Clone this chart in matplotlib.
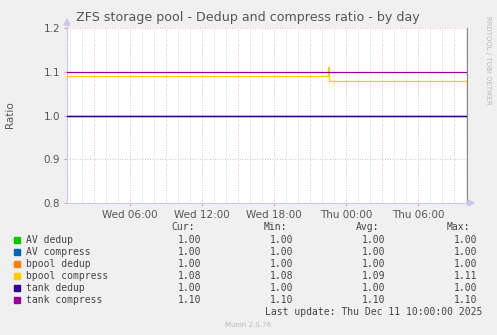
import matplotlib
matplotlib.use("Agg")
import matplotlib.pyplot as plt
import matplotlib.dates as mdates
from datetime import datetime, timedelta

# ---- data ----
series_names = ["AV dedup", "AV compress", "bpool dedup", "bpool compress", "tank dedup", "tank compress"]
series_colors = ["#00CC00", "#0066B3", "#FF8000", "#FFCC00", "#330099", "#990099"]

t_start = datetime(2025, 12, 10, 0, 45)
t_end = datetime(2025, 12, 11, 10, 5)

av_dedup_t = [datetime(2025, 12, 10, 0, 45), datetime(2025, 12, 11, 10, 0)]
av_dedup_v = [1.00, 1.00]
av_compress_t = [datetime(2025, 12, 10, 0, 45), datetime(2025, 12, 11, 10, 0)]
av_compress_v = [1.00, 1.00]
bpool_dedup_t = [datetime(2025, 12, 10, 0, 45), datetime(2025, 12, 11, 10, 0)]
bpool_dedup_v = [1.00, 1.00]
bpool_compress_t = [datetime(2025, 12, 10, 0, 45), datetime(2025, 12, 10, 22, 30),
                    datetime(2025, 12, 10, 22, 35), datetime(2025, 12, 10, 22, 40),
                    datetime(2025, 12, 11, 10, 0)]
bpool_compress_v = [1.09, 1.11, 1.08, 1.08, 1.08]
tank_dedup_t = [datetime(2025, 12, 10, 0, 45), datetime(2025, 12, 11, 10, 0)]
tank_dedup_v = [1.00, 1.00]
tank_compress_t = [datetime(2025, 12, 10, 0, 45), datetime(2025, 12, 11, 10, 0)]
tank_compress_v = [1.10, 1.10]

cur_vals = ["1.00", "1.00", "1.00", "1.08", "1.00", "1.10"]
min_vals = ["1.00", "1.00", "1.00", "1.08", "1.00", "1.10"]
avg_vals = ["1.00", "1.00", "1.00", "1.09", "1.00", "1.10"]
max_vals = ["1.00", "1.00", "1.00", "1.11", "1.00", "1.10"]

y_ticks = [0.8, 0.9, 1.0, 1.1, 1.2]
title = "ZFS storage pool - Dedup and compress ratio - by day"
last_update = "Last update: Thu Dec 11 10:00:00 2025"

# ---- figure ----
W, H = 497, 335
fig = plt.figure(figsize=(W / 100, H / 100), dpi=100, facecolor="#F0F0F0")
L, R, T, B = 67, 467, 28, 203
ax = fig.add_axes([L / W, 1 - B / H, (R - L) / W, (B - T) / H])
ax.set_facecolor("white")

all_t = [av_dedup_t, av_compress_t, bpool_dedup_t, bpool_compress_t, tank_dedup_t, tank_compress_t]
all_v = [av_dedup_v, av_compress_v, bpool_dedup_v, bpool_compress_v, tank_dedup_v, tank_compress_v]
for tt, vv, c in zip(all_t, all_v, series_colors):
    ax.step(tt, vv, where="post", color=c, lw=0.9, zorder=3)

ax.set_xlim(t_start, t_end)
ax.set_ylim(0.8, 1.2)

# grid
ax.xaxis.set_major_locator(mdates.HourLocator(byhour=[6, 12, 18, 0]))
ax.xaxis.set_major_formatter(mdates.DateFormatter("%a %H:%M"))
ax.xaxis.set_minor_locator(mdates.HourLocator())
for h in range(0, 36):
    t = datetime(2025, 12, 10) + timedelta(hours=h)
    if t_start < t < t_end:
        if h % 3 == 0:
            ax.axvline(t, color="#E0A0A0", lw=0.6, ls=(0, (1, 2)), zorder=1)
        else:
            ax.axvline(t, color="#C4C4C4", lw=0.6, ls=(0, (1, 2)), zorder=1)
for y in y_ticks:
    ax.axhline(y, color="#E0A0A0", lw=0.6, ls=(0, (1, 2)), zorder=1)

ax.set_yticks(y_ticks)
ax.set_yticklabels([f"{y:.1f}" for y in y_ticks])
ax.tick_params(axis="both", which="both", labelsize=7.5, labelcolor="#555555", length=2,
               color="#E0A0A0", pad=3)
ax.tick_params(axis="x", which="minor", length=0)

ax.spines["top"].set_visible(False)
ax.spines["left"].set_color("#C8C8F0")
ax.spines["bottom"].set_color("#C8C8F0")
ax.spines["right"].set_color("#888888")
for s in ["left", "bottom", "right"]:
    ax.spines[s].set_linewidth(0.8)

# arrows
fig.patches.append(plt.Polygon([[L / W - 3 / W, 1 - 25 / H], [L / W + 3 / W, 1 - 25 / H], [L / W, 1 - 19 / H]],
                               closed=True, transform=fig.transFigure, color="#C8C8F0"))
fig.patches.append(plt.Polygon([[R / W + 1 / W, 1 - (B - 3) / H], [R / W + 1 / W, 1 - (B + 3) / H], [(R + 7) / W, 1 - B / H]],
                               closed=True, transform=fig.transFigure, color="#C8C8F0"))
ax.plot([0, 0], [1, 1.02], transform=ax.transAxes, color="#C8C8F0", lw=0.8, clip_on=False)
ax.plot([1, 1.012], [0, 0], transform=ax.transAxes, color="#C8C8F0", lw=0.8, clip_on=False)

fig.text(248 / W, 1 - 18 / H, title, ha="center", va="center", fontsize=9.1, color="#555555")
fig.text(10 / W, 1 - 115 / H, "Ratio", ha="center", va="center", rotation=90, fontsize=7.5, color="#555555")
fig.text(488 / W, 1 - 60 / H, "RRDTOOL / TOBI OETIKER", ha="center", va="center", rotation=270,
         fontsize=5, color="#BBBBBB")

# legend
mono = "DejaVu Sans Mono"
lc = "#444444"
hy = 227
fig.text(195 / W, 1 - hy / H, "Cur:", ha="right", va="center", fontsize=7, family=mono, color=lc)
fig.text(287 / W, 1 - hy / H, "Min:", ha="right", va="center", fontsize=7, family=mono, color=lc)
fig.text(379 / W, 1 - hy / H, "Avg:", ha="right", va="center", fontsize=7, family=mono, color=lc)
fig.text(470 / W, 1 - hy / H, "Max:", ha="right", va="center", fontsize=7, family=mono, color=lc)
for i, (n, c) in enumerate(zip(series_names, series_colors)):
    y = 240 + 12 * i
    fig.patches.append(plt.Rectangle((14 / W, 1 - (y + 3) / H), 6 / W, 6 / H, transform=fig.transFigure,
                                     color=c))
    fig.text(26 / W, 1 - y / H, n, ha="left", va="center", fontsize=7, family=mono, color=lc)
    fig.text(201 / W, 1 - y / H, cur_vals[i], ha="right", va="center", fontsize=7, family=mono, color=lc)
    fig.text(293 / W, 1 - y / H, min_vals[i], ha="right", va="center", fontsize=7, family=mono, color=lc)
    fig.text(385 / W, 1 - y / H, avg_vals[i], ha="right", va="center", fontsize=7, family=mono, color=lc)
    fig.text(477 / W, 1 - y / H, max_vals[i], ha="right", va="center", fontsize=7, family=mono, color=lc)
fig.text(482 / W, 1 - 312 / H, last_update, ha="right", va="center", fontsize=7, family=mono, color=lc)
fig.text(248 / W, 1 - 325 / H, "Munin 2.0.76", ha="center", va="center", fontsize=5, color="#BBBBBB")

fig.savefig("out.png", dpi=100, facecolor=fig.get_facecolor())
